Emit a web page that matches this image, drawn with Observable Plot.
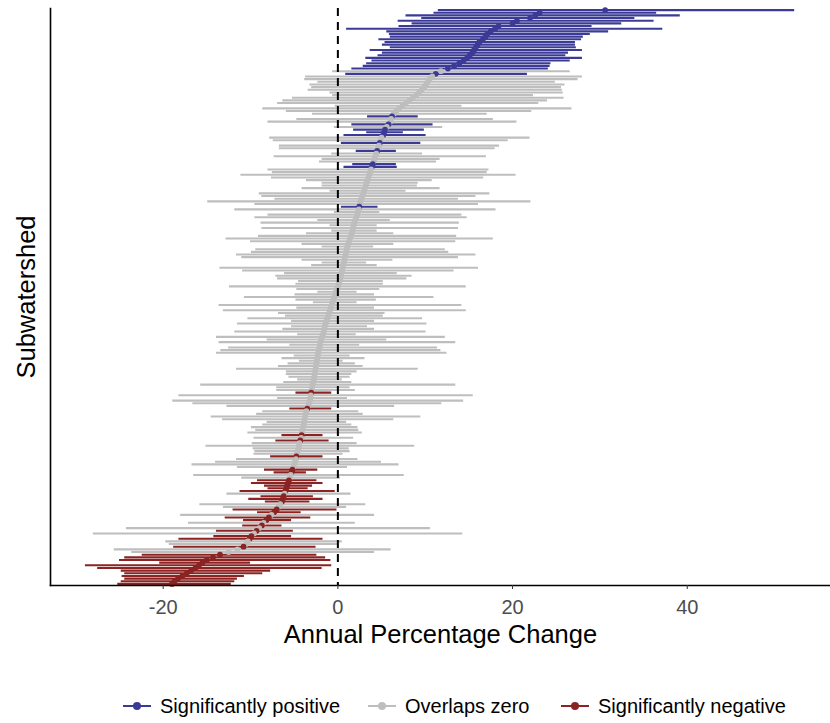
<!DOCTYPE html>
<html>
<head>
<meta charset="utf-8">
<script src="https://cdn.jsdelivr.net/npm/d3@7"></script>
<script src="https://cdn.jsdelivr.net/npm/@observablehq/plot@0.6"></script>
<style>
  body { margin: 0; background: #fff; font-family: "Liberation Sans", Arial, sans-serif; }
  #chart { position: relative; width: 830px; height: 723px; }
  #legend { position: absolute; left: 0; top: 693px; width: 830px; height: 26px; }
  .item { position: absolute; top: 0; display: flex; align-items: center; height: 26px; font-size: 20px; color: #000; }
  .item svg { margin-right: 8px; }
</style>
</head>
<body>
<div id="chart"></div>
<script>
// Annual percentage change per subwatershed, sorted from largest to smallest estimate.
const estimate = [
  30.6, 23.1, 22.6, 22.0, 20.5, 20.0, 18.4, 18.0, 17.5, 17.1,
  16.9, 16.6, 16.2, 16.0, 15.8, 15.6, 15.4, 15.1, 14.8, 14.4,
  13.9, 13.3, 12.6, 11.8, 11.2, 10.8, 10.5, 10.3, 10.1, 9.9,
  9.6, 9.3, 9.0, 8.6, 8.2, 7.8, 7.4, 7.0, 6.7, 6.4,
  6.2, 6.1, 6.0, 5.8, 5.6, 5.4, 5.3, 5.2, 5.0, 4.9,
  4.8, 4.7, 4.6, 4.5, 4.4, 4.3, 4.2, 4.1, 4.0, 3.9,
  3.8, 3.7, 3.6, 3.5, 3.4, 3.3, 3.2, 3.1, 3.0, 2.9,
  2.8, 2.7, 2.6, 2.5, 2.45, 2.4, 2.3, 2.2, 2.1, 2.0,
  1.9, 1.8, 1.75, 1.7, 1.6, 1.5, 1.4, 1.3, 1.2, 1.1,
  1.0, 0.95, 0.9, 0.8, 0.75, 0.7, 0.6, 0.55, 0.5, 0.4,
  0.35, 0.3, 0.2, 0.1, 0.0, -0.1, -0.2, -0.3, -0.4, -0.5,
  -0.6, -0.7, -0.8, -0.9, -1.0, -1.1, -1.2, -1.3, -1.4, -1.5,
  -1.55, -1.6, -1.7, -1.8, -1.9, -2.0, -2.05, -2.1, -2.2, -2.25,
  -2.3, -2.35, -2.4, -2.45, -2.5, -2.55, -2.6, -2.65, -2.7, -2.75,
  -2.8, -2.9, -2.95, -3.0, -3.05, -3.1, -3.15, -3.2, -3.3, -3.4,
  -3.5, -3.6, -3.7, -3.75, -3.8, -3.85, -3.9, -4.0, -4.05, -4.1,
  -4.15, -4.2, -4.3, -4.4, -4.45, -4.5, -4.6, -4.7, -4.75, -4.8,
  -4.9, -5.0, -5.1, -5.2, -5.3, -5.4, -5.5, -5.6, -5.7, -5.8,
  -5.9, -6.0, -6.1, -6.2, -6.3, -6.4, -6.6, -6.8, -7.0, -7.3,
  -7.6, -7.9, -8.2, -8.5, -8.7, -9.0, -9.3, -9.6, -9.9, -10.1,
  -10.3, -10.5, -10.8, -11.5, -12.5, -13.5, -14.3, -15.0, -15.5, -15.9,
  -16.3, -16.8, -17.3, -17.8, -18.3, -18.7, -19.0
];
const lower = [
  11.5, 11.0, 7.8, 9.6, 6.9, 8.5, 7.0, 1.0, 5.6, 5.9,
  6.0, 4.7, 5.4, 5.1, 6.0, 3.7, 5.1, 4.6, 3.2, 3.9,
  3.3, 2.9, 1.6, -0.6, 0.9, -3.7, -3.8, -2.3, -3.2, -3.0,
  -3.4, -0.9, -0.6, -5.2, -6.3, -6.9, -0.3, -8.6, -5.9, -2.9,
  3.4, -4.7, -8.0, 1.6, -0.4, 1.8, 3.3, 0.7, -7.8, -7.4,
  0.4, -6.7, -6.7, 2.1, -0.7, -7.3, -1.8, -2.1, 1.7, 0.7,
  -8.0, -7.5, -11.1, -7.6, -3.6, -1.8, -1.8, -4.1, -0.9, -9.0,
  -8.7, -7.2, -14.9, -9.5, 0.4, -11.8, -0.4, -8.0, -9.5, -2.3,
  -8.8, -0.9, -8.7, -0.7, -3.6, -9.1, -12.8, -10.0, -4.1, -1.8,
  -9.4, -9.9, -11.6, -11.0, -4.1, -1.8, -3.0, -13.5, -10.9, -6.1,
  -7.1, -6.9, -4.5, -4.8, -12.4, -4.7, -2.3, -4.9, -10.7, -4.8,
  -2.8, -13.6, -4.7, -13.1, -6.8, -6.0, -10.3, -5.3, -11.5, -5.3,
  -6.3, -11.8, -4.6, -13.9, -8.1, -13.6, -5.5, -12.5, -13.4, -13.9,
  -5.0, -6.4, -4.4, -5.7, -6.8, -11.6, -5.9, -5.9, -5.6, -4.6,
  -6.2, -15.7, -7.0, -7.0, -4.8, -18.2, -6.9, -18.9, -16.6, -12.7,
  -5.5, -8.6, -9.3, -14.5, -13.2, -8.1, -8.6, -9.9, -9.4, -10.3,
  -6.4, -9.6, -7.1, -9.8, -15.1, -9.7, -9.5, -9.6, -7.7, -11.6,
  -14.0, -16.7, -11.5, -8.4, -7.3, -16.5, -11.0, -9.2, -9.9, -8.4,
  -8.0, -11.2, -12.7, -8.8, -10.2, -8.3, -15.8, -13.1, -12.0, -9.2,
  -18.0, -12.9, -10.8, -17.1, -10.9, -24.2, -13.9, -28.0, -14.2, -18.2,
  -19.7, -19.3, -18.8, -25.6, -23.6, -22.4, -24.4, -25.0, -20.4, -28.9,
  -27.5, -24.8, -24.4, -24.7, -24.4, -24.8, -25.2
];
const upper = [
  52.3, 36.5, 39.2, 34.0, 36.2, 32.5, 29.1, 37.2, 31.0, 28.9,
  28.1, 27.9, 27.2, 27.2, 27.3, 28.0, 26.4, 26.1, 28.0, 26.6,
  24.4, 24.3, 24.1, 26.6, 21.7, 28.0, 27.5, 24.9, 26.0, 25.6,
  25.7, 25.8, 22.4, 25.9, 24.0, 23.0, 14.2, 26.8, 22.2, 17.1,
  9.2, 17.8, 20.5, 10.9, 12.0, 9.9, 7.5, 10.1, 22.0, 19.5,
  9.5, 18.5, 18.0, 6.7, 9.7, 17.0, 11.7, 11.3, 6.7, 6.8,
  17.3, 17.1, 20.4, 16.7, 10.8, 9.2, 9.1, 11.7, 7.8, 17.4,
  15.8, 13.8, 22.1, 16.1, 4.6, 18.1, 4.8, 14.2, 14.8, 6.0,
  13.9, 4.5, 13.8, 4.5, 6.4, 13.6, 17.8, 13.5, 6.4, 4.1,
  12.3, 12.7, 15.8, 13.8, 6.3, 3.3, 4.5, 16.1, 13.3, 6.8,
  8.5, 7.9, 5.2, 5.2, 14.7, 4.8, 2.2, 4.2, 11.0, 4.4,
  2.2, 14.2, 4.2, 14.7, 5.4, 5.2, 9.7, 4.2, 10.2, 3.4,
  4.2, 10.1, 2.1, 12.3, 5.6, 13.5, 2.5, 11.4, 11.8, 12.5,
  1.4, 3.1, 0.6, 2.0, 2.9, 9.2, 2.2, 1.6, 1.4, 0.5,
  1.6, 13.5, 1.4, 2.0, -0.7, 15.5, 1.1, 14.4, 11.9, 6.5,
  -0.7, 2.4, 2.9, 9.5, 6.4, 1.0, 1.6, 2.3, 2.4, 2.8,
  -1.7, 1.8, -1.0, 2.2, 8.8, 1.3, 1.4, 0.6, -1.7, 2.3,
  5.0, 7.0, 1.1, -2.3, -3.6, 7.6, 0.3, -2.4, -1.7, -2.9,
  -3.4, -0.3, 1.5, -2.8, -1.7, -3.2, 3.2, 1.0, -0.1, -4.2,
  4.2, -3.1, -5.3, 2.0, -6.4, 10.6, -5.1, 14.3, -5.3, -1.7,
  0.5, 0.2, -2.5, 6.1, 4.2, -2.4, -1.4, -0.8, -10.0, -0.7,
  -1.8, -7.7, -8.6, -10.7, -11.5, -11.8, -12.2
];

const groups = ["Significantly positive", "Overlaps zero", "Significantly negative"];
const colors = ["#3b3b96", "#bebebe", "#8b2323"];
const xTicks = [-20, 0, 20, 40];

// An interval is significant when it lies entirely on one side of zero.
const rows = estimate.map((e, i) => ({
  rank: i,
  estimate: e,
  lower: lower[i],
  upper: upper[i],
  group: lower[i] > 0 ? groups[0] : upper[i] < 0 ? groups[2] : groups[1]
}));
const n = rows.length;

const chart = Plot.plot({
  width: 830,
  height: 660,
  marginLeft: 50,
  marginRight: 0,
  marginTop: 8,
  marginBottom: 75,
  style: { fontFamily: "'Liberation Sans', Arial, sans-serif", background: "#fff" },
  x: { domain: [-32.9, 56.4] },
  y: { domain: [-0.6, n - 0.4], reverse: true, axis: null },
  color: { domain: groups, range: colors },
  marks: [
    Plot.ruleY(rows, { y: "rank", x1: "lower", x2: "upper", stroke: "group", strokeWidth: 2.1 }),
    Plot.dot(rows, { x: "estimate", y: "rank", fill: "group", r: 2.9, stroke: null }),
    Plot.ruleX([0], { stroke: "#000", strokeWidth: 2, strokeDasharray: "8,6" }),
    Plot.frame({ anchor: "left", stroke: "#000", strokeWidth: 1.6 }),
    Plot.frame({ anchor: "bottom", stroke: "#000", strokeWidth: 1.6 }),
    Plot.axisX({ ticks: xTicks, tickFormat: (d) => String(d), tickSize: 4, tickPadding: 10, fontSize: 20, stroke: "#333", fill: "#4d4d4d", label: null }),
    Plot.text(["Annual Percentage Change"], { frameAnchor: "bottom", dy: 57, fontSize: 25.5, fill: "#000" }),
    Plot.text(["Subwatershed"], { frameAnchor: "left", textAnchor: "middle", dx: -24, rotate: -90, fontSize: 25.5, fill: "#000" })
  ]
});
document.getElementById("chart").appendChild(chart);

// Legend: a line with a dot for each group, laid out in one row below the plot.
const legend = document.createElement("div");
legend.id = "legend";
const lefts = [122, 367, 560];
groups.forEach((g, i) => {
  const item = document.createElement("div");
  item.className = "item";
  item.style.left = lefts[i] + "px";
  item.innerHTML =
    `<svg width="30" height="26"><line x1="1" x2="29" y1="13" y2="13" stroke="${colors[i]}" stroke-width="2"/>` +
    `<circle cx="15" cy="13" r="4" fill="${colors[i]}"/></svg><span>${g}</span>`;
  legend.appendChild(item);
});
document.getElementById("chart").appendChild(legend);
</script>
</body>
</html>
